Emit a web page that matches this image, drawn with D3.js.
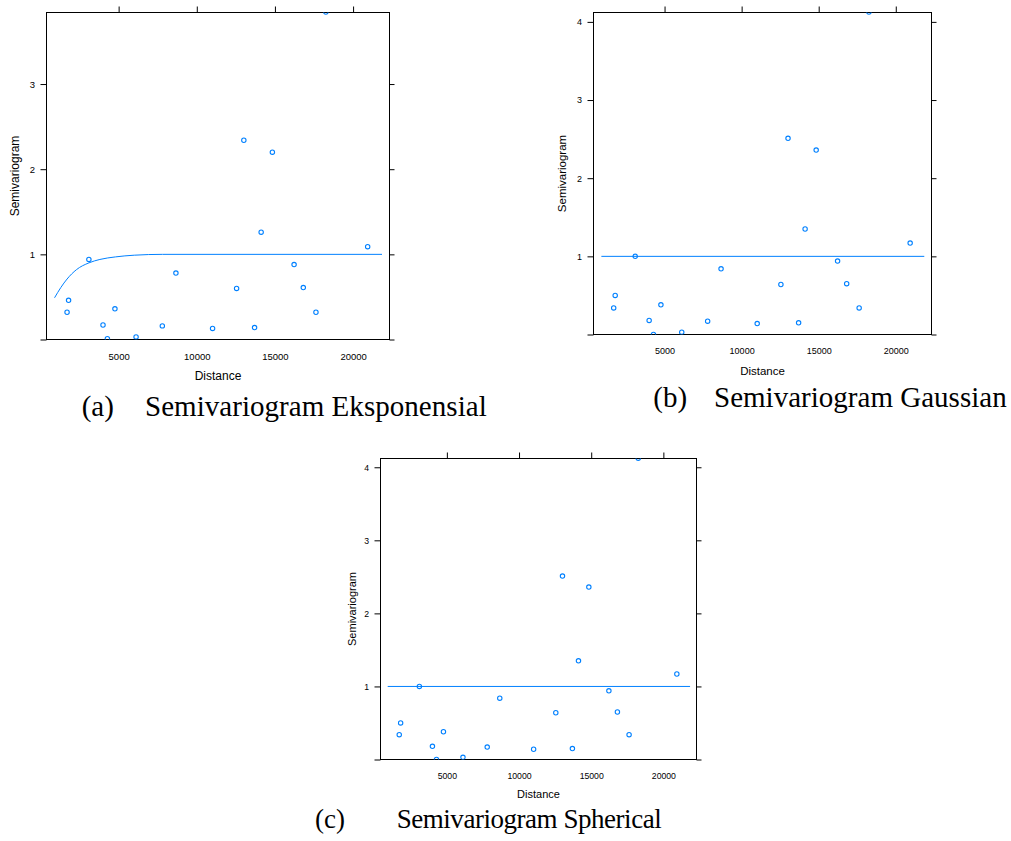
<!DOCTYPE html>
<html>
<head>
<meta charset="utf-8">
<script src="https://cdn.jsdelivr.net/npm/d3@7"></script>
<style>
  body { margin: 0; background: #fff; }
  svg text { font-family: 'Liberation Sans', Arial, sans-serif; fill: #000; }
  svg text.caption { font-family: 'Liberation Serif', 'Times New Roman', serif; }
</style>
</head>
<body>
<div id="dataviz-container"></div>
<script>
// empirical semivariogram: lag distance and gamma
const distance = [1700, 1797, 3096, 4000, 4280, 4763, 6115, 7795, 8665, 11010, 12547, 13010, 13697, 14118, 14836, 16225, 16815, 17624, 18258, 20933]
const gammaExp = [0.32, 0.46, 0.94, 0.17, 0.01, 0.36, 0.03, 0.16, 0.78, 0.13, 0.60, 2.34, 0.14, 1.26, 2.20, 0.88, 0.61, 0.32, 3.845, 1.09]
const gammaObs = [0.34, 0.50, 1.00, 0.18, 0.00, 0.38, 0.03, 0.17, 0.84, 0.14, 0.64, 2.51, 0.15, 1.35, 2.36, 0.94, 0.65, 0.34, 4.125, 1.17]

// fitted models
const expLineDist = [900, 1300, 1700, 2300, 3100, 3800, 4800, 6000, 7800, 21850]
const expLineGamma = [0.49, 0.61, 0.71, 0.82, 0.90, 0.94, 0.97, 0.99, 1.0, 1.0]
const flatLineDist = [900, 21850]
const gaussLineGamma = [1.0, 1.0]
const sphLineGamma = [1.0, 1.0]

const xTicks = [5000, 10000, 15000, 20000]
const yTicks = [0, 1, 2, 3, 4]

const captionTags = ['(a)', '(b)', '(c)']
const captionTitles = ['Semivariogram Eksponensial', 'Semivariogram Gaussian', 'Semivariogram Spherical']

let svg = d3.select('#dataviz-container')
    .append('svg')
    .attr('width', 1011)
    .attr('height', 841)

let panels = [
    { id: 'a', left: 46.5, right: 389.5, top: 12.5, bottom: 339.5, xDomain: [385, 22330], yDomain: [0, 3.84],
      tickFs: 9.5, labelFs: 12, ylabX: 15, xlabY: 375.7, xTickCy: 17.4,
      pts: gammaExp, lineX: expLineDist, lineY: expLineGamma,
      cap: { tagX: 81.7, x: 145, w: 341.7, y: 416, fs: 29 } },
    { id: 'b', left: 593.5, right: 931.5, top: 12.5, bottom: 334.5, xDomain: [390, 22318], yDomain: [0, 4.12],
      tickFs: 9, labelFs: 11.5, ylabX: 561.7, xlabY: 371, xTickCy: 16.4,
      pts: gammaObs, lineX: flatLineDist, lineY: gaussLineGamma,
      cap: { tagX: 653.3, x: 714, w: 292.7, y: 407, fs: 29 } },
    { id: 'c', left: 380.5, right: 696.5, top: 458.5, bottom: 759.5, xDomain: [402, 22295], yDomain: [0, 4.12],
      tickFs: 8.7, labelFs: 11, ylabX: 351.7, xlabY: 794, xTickCy: 16.7,
      pts: gammaObs, lineX: flatLineDist, lineY: sphLineGamma,
      cap: { tagX: 315, x: 396.7, w: 265, y: 828, fs: 27 } }
]

let styleAxis = (g, fs) => {
    g.select('.domain').remove()
    g.selectAll('.tick line').attr('stroke', '#000')
    g.attr('font-family', null).attr('font-size', fs)
}

panels.forEach((p, i) => {
    let x = d3.scaleLinear().domain(p.xDomain).range([p.left, p.right])
    let y = d3.scaleLinear().domain(p.yDomain).range([p.bottom, p.top])
    let yt = yTicks.filter((v) => v <= p.yDomain[1])
    let g = svg.append('g')

    g.append('g')
        .attr('transform', `translate(0,${p.top})`)
        .call(d3.axisTop(x).tickValues(xTicks).tickSize(6).tickFormat(''))
        .call((a) => styleAxis(a, p.tickFs))

    g.append('g')
        .attr('transform', `translate(0,${p.bottom})`)
        .call(d3.axisBottom(x).tickValues(xTicks).tickSize(0)
            .tickPadding(p.xTickCy - 0.35 * p.tickFs).tickFormat(d3.format('d')))
        .call((a) => styleAxis(a, p.tickFs))

    g.append('g')
        .attr('transform', `translate(${p.left},0)`)
        .call(d3.axisLeft(y).tickValues(yt).tickSize(6).tickPadding(5.5)
            .tickFormat((d) => d === 0 ? '' : d))
        .call((a) => styleAxis(a, p.tickFs))

    g.append('g')
        .attr('transform', `translate(${p.right},0)`)
        .call(d3.axisRight(y).tickValues(yt).tickSize(5).tickFormat(''))
        .call((a) => styleAxis(a, p.tickFs))

    g.append('rect')
        .attr('x', p.left)
        .attr('y', p.top)
        .attr('width', p.right - p.left)
        .attr('height', p.bottom - p.top)
        .attr('fill', 'none')
        .attr('stroke', '#000')

    g.append('clipPath')
        .attr('id', `clip-${p.id}`)
        .append('rect')
        .attr('x', p.left)
        .attr('y', p.top)
        .attr('width', p.right - p.left)
        .attr('height', p.bottom - p.top)

    let plot = g.append('g').attr('clip-path', `url(#clip-${p.id})`)

    let line = d3.line()
        .x((d) => x(d[0]))
        .y((d) => y(d[1]))
        .curve(d3.curveMonotoneX)

    plot.append('path')
        .datum(d3.zip(p.lineX, p.lineY))
        .attr('d', line)
        .attr('fill', 'none')
        .attr('stroke', '#0080ff')
        .attr('stroke-width', 1)

    plot.selectAll('circle')
        .data(d3.zip(distance, p.pts))
        .enter().append('circle')
        .attr('cx', (d) => x(d[0]))
        .attr('cy', (d) => y(d[1]))
        .attr('r', 2.2)
        .attr('fill', 'none')
        .attr('stroke', '#0080ff')
        .attr('stroke-width', 1.1)

    g.append('text')
        .attr('x', (p.left + p.right) / 2)
        .attr('y', p.xlabY)
        .attr('dy', '0.35em')
        .attr('text-anchor', 'middle')
        .attr('font-size', p.labelFs)
        .text('Distance')

    g.append('text')
        .attr('transform', `translate(${p.ylabX},${(p.top + p.bottom) / 2}) rotate(-90)`)
        .attr('dy', '0.35em')
        .attr('text-anchor', 'middle')
        .attr('font-size', p.labelFs)
        .text('Semivariogram')

    g.append('text')
        .attr('class', 'caption')
        .attr('x', p.cap.tagX)
        .attr('y', p.cap.y)
        .attr('font-size', p.cap.fs)
        .text(captionTags[i])

    g.append('text')
        .attr('class', 'caption')
        .attr('x', p.cap.x)
        .attr('y', p.cap.y)
        .attr('font-size', p.cap.fs)
        .attr('textLength', p.cap.w)
        .text(captionTitles[i])
})
</script>
</body>
</html>
